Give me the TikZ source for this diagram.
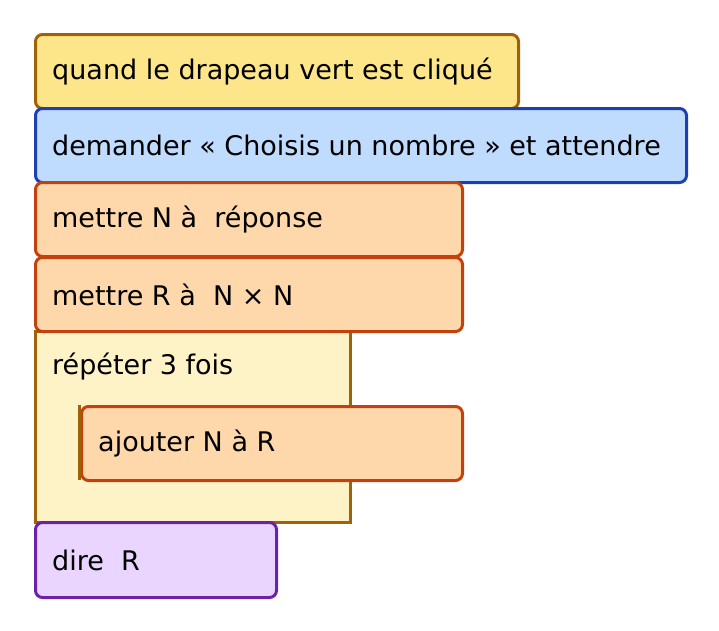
\documentclass[tikz,border=0pt]{standalone}
\usepackage{fontspec}
\setmainfont{DejaVu Sans}
\usepackage{xcolor}
\definecolor{hatfill}{HTML}{FDE68A}
\definecolor{hatdraw}{HTML}{A16207}
\definecolor{askfill}{HTML}{BFDBFE}
\definecolor{askdraw}{HTML}{1E40AF}
\definecolor{varfill}{HTML}{FED7AA}
\definecolor{vardraw}{HTML}{C2410C}
\definecolor{loopfill}{HTML}{FEF3C7}
\definecolor{sayfill}{HTML}{E9D5FF}
\definecolor{saydraw}{HTML}{6B21A8}
\tikzset{
    block/.style = {line width=3pt, rectangle, rounded corners=7pt, anchor=north west, minimum height=74pt, inner sep=0pt},
    block-text/.style = {anchor=west, font=\fontsize{27}{31}\selectfont, inner sep=0pt},
}

\begin{document}
\begin{tikzpicture}[x=1pt,y=-1pt]
\useasboundingbox (0,0) rectangle (719,630);
% repeat block first, so the others sit on top
\node [block, rounded corners=0pt, draw=hatdraw, fill=loopfill, minimum width=315pt, minimum height=191pt] (loop) at (34,330) {};
\node [block, draw=vardraw, fill=varfill, minimum width=381pt] (add) at (80,405) {};
\draw [hatdraw, line width=3pt] (add.north west) ++(-1,0) -- ++(0,75);
\node [block-text] at (52,367) {répéter 3 fois};
\node [block-text] at ([xshift=18pt]add.west) {ajouter N à R};

\node [block, draw=hatdraw, fill=hatfill, minimum width=483pt] (flag) at (34,33) {};
\node [block-text] at ([xshift=18pt]flag.west) {quand le drapeau vert est cliqué};
\node [block, draw=askdraw, fill=askfill, minimum width=651pt] (ask) at (34,107) {};
\node [block-text] at ([xshift=18pt]ask.west) {demander « Choisis un nombre » et attendre};
\node [block, draw=vardraw, fill=varfill, minimum width=427pt] (setN) at (34,181) {};
\node [block-text] at ([xshift=18pt]setN.west) {mettre N à \ réponse};
\node [block, draw=vardraw, fill=varfill, minimum width=427pt] (setR) at (34,256) {};
\node [block-text] at ([xshift=18pt]setR.west) {mettre R à \ N × N};
\node [block, draw=saydraw, fill=sayfill, minimum width=241pt, minimum height=75pt] (say) at (34,521) {};
\node [block-text] at ([xshift=18pt]say.west) {dire \ R};
\end{tikzpicture}
\end{document}
